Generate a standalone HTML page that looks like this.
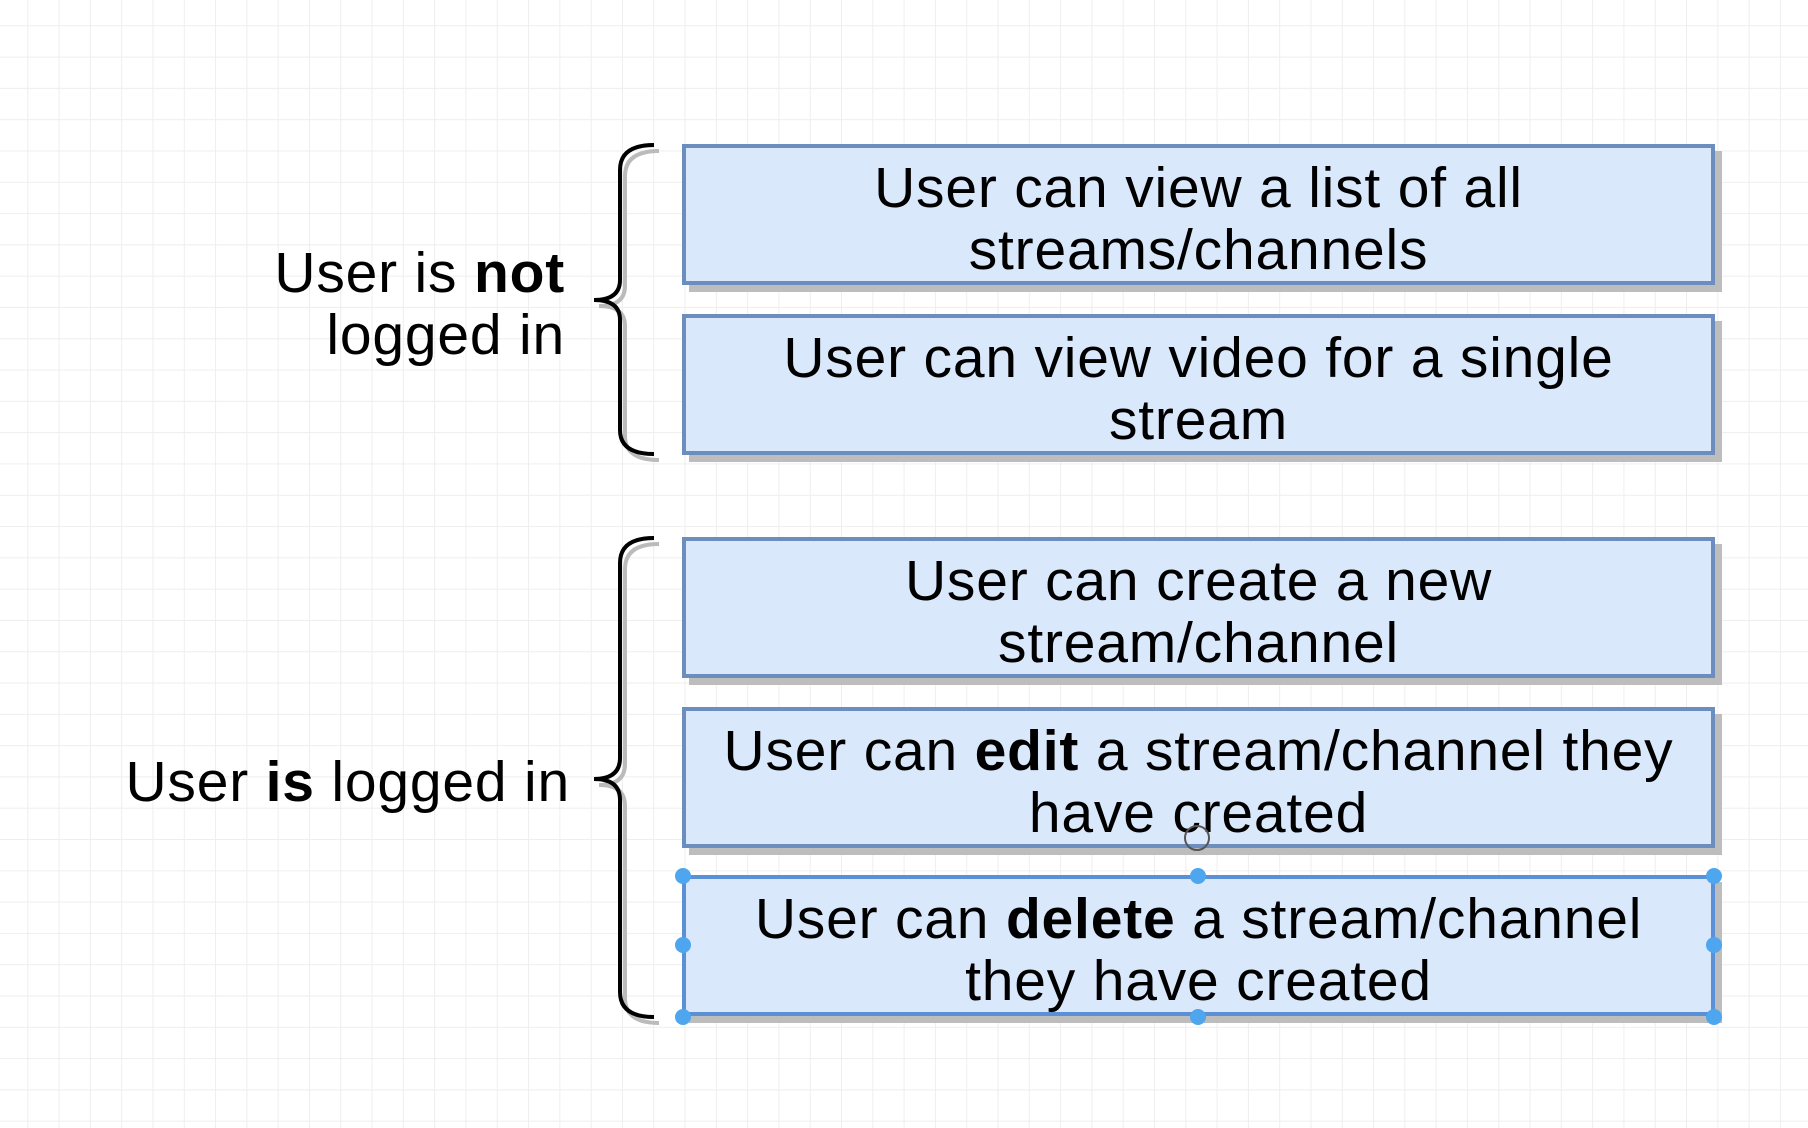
<!DOCTYPE html>
<html><head><style>
html,body{margin:0;padding:0}
body{width:1808px;height:1128px;position:relative;overflow:hidden;background:#fff;
background-image:linear-gradient(#eeeeee 1px,transparent 1px),linear-gradient(90deg,#eeeeee 1px,transparent 1px);
background-size:31.3px 31.3px;background-position:-4px -6px;font-family:"Liberation Sans",Arial,sans-serif;color:#000}
.b{position:absolute;left:682px;width:1025px;height:133px;background:#dae8fc;border:4px solid #6c8ebf;box-shadow:7px 7px 0 #bdbdbd;
display:flex;align-items:center;justify-content:center;text-align:center;font-size:57px;line-height:62px;letter-spacing:0.8px}
.b span{position:relative;top:4px}
.l{position:absolute;font-size:57px;line-height:62px;text-align:right;letter-spacing:0.8px}
.h{position:absolute;width:16px;height:16px;border-radius:50%;background:#4ea6ee}
</style></head><body>
<div class="b" style="top:144px"><span>User can view a list of all<br>streams/channels</span></div>
<div class="b" style="top:314px"><span>User can view video for a single<br>stream</span></div>
<div class="b" style="top:537px"><span>User can create a new<br>stream/channel</span></div>
<div class="b" style="top:707px"><span>User can <b>edit</b> a stream/channel they<br>have created</span></div>
<div class="b" style="top:875px;border-color:#5b8fd6"><span>User can <b>delete</b> a stream/channel<br>they have created</span></div>
<div class="l" style="right:1243px;top:242px">User is <b>not</b><br>logged in</div>
<div class="l" style="right:1238px;top:751px;white-space:nowrap">User <b>is</b> logged in</div>
<svg width="1808" height="1128" style="position:absolute;left:0;top:0">
<g fill="none" stroke-width="4">
<path stroke="#bbb" transform="translate(5,6)" d="M654 145 Q620 145 620 170 L620 280 Q620 300 594 300 Q620 300 620 320 L620 430 Q620 454 654 454"/>
<path stroke="#000" d="M654 145 Q620 145 620 170 L620 280 Q620 300 594 300 Q620 300 620 320 L620 430 Q620 454 654 454"/>
<path stroke="#bbb" transform="translate(5,6)" d="M654 538 Q620 538 620 563 L620 758 Q620 779 594 779 Q620 779 620 800 L620 992 Q620 1017 654 1017"/>
<path stroke="#000" d="M654 538 Q620 538 620 563 L620 758 Q620 779 594 779 Q620 779 620 800 L620 992 Q620 1017 654 1017"/>
<circle cx="1197" cy="838" r="12" stroke="#555" stroke-width="2"/>
</g></svg>
<div class="h" style="left:675px;top:868px"></div>
<div class="h" style="left:1190px;top:868px"></div>
<div class="h" style="left:1706px;top:868px"></div>
<div class="h" style="left:675px;top:937px"></div>
<div class="h" style="left:1706px;top:937px"></div>
<div class="h" style="left:675px;top:1009px"></div>
<div class="h" style="left:1190px;top:1009px"></div>
<div class="h" style="left:1706px;top:1009px"></div>
</body></html>
